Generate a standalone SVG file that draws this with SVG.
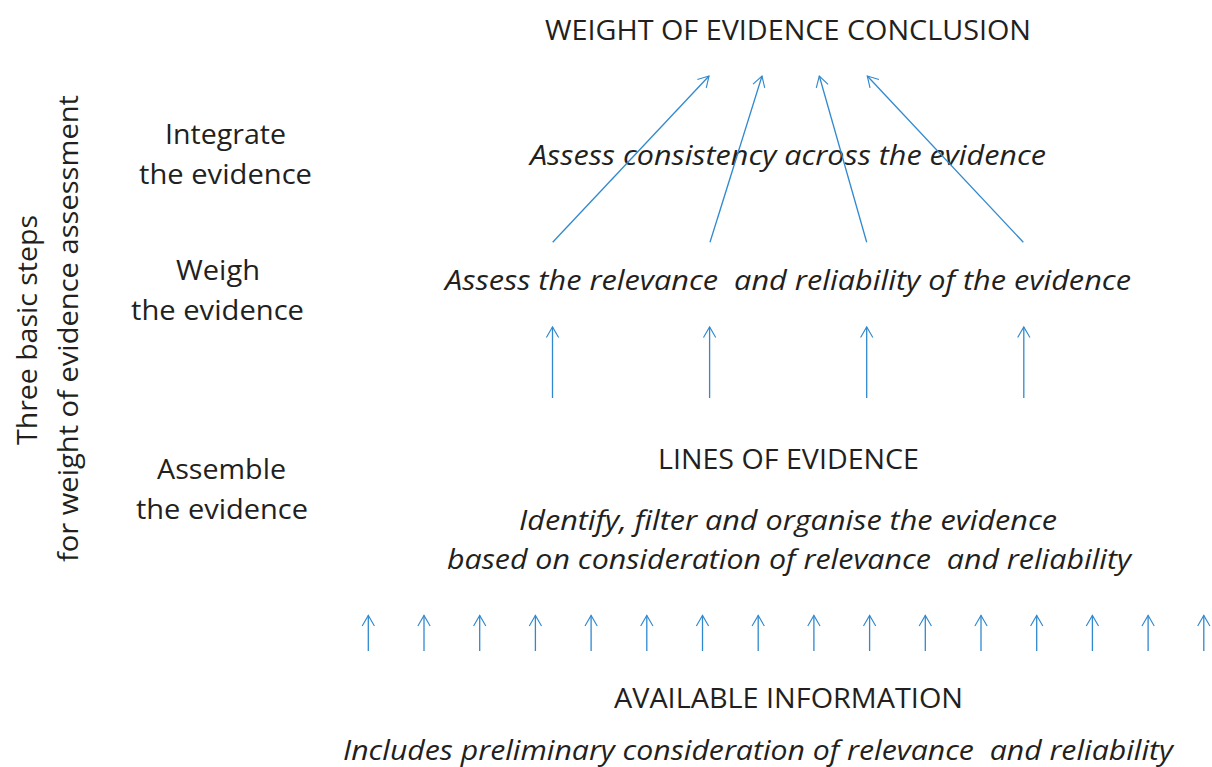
<svg xmlns="http://www.w3.org/2000/svg" width="1212" height="767" viewBox="0 0 1212 767">
<defs>
<style>
.t{font-family:"Open Sans","Noto Sans",sans-serif;fill:#231f20;font-size:27px}
.i{font-style:italic}
.c{text-anchor:middle}
.p{white-space:pre}
.a{stroke:#3089cf;stroke-width:1.3;fill:none;marker-end:url(#ah)}
</style>
<marker id="ah" markerUnits="userSpaceOnUse" markerWidth="14" markerHeight="14" viewBox="-13 -8 14 16" refX="0" refY="0" orient="auto" overflow="visible">
<path d="M-12,-7 L0,0 L-12,7" fill="none" stroke="#3089cf" stroke-width="1.3"/>
</marker>
</defs>
<rect width="1212" height="767" fill="#ffffff"/>
<g id="side-title">
<text class="t c" transform="translate(37,330) rotate(-90)" textLength="230" lengthAdjust="spacingAndGlyphs">Three basic steps</text>
<text class="t c" transform="translate(78,328.5) rotate(-90)" textLength="467" lengthAdjust="spacingAndGlyphs">for weight of evidence assessment</text>
</g>
<g id="step-integrate">
<text class="t c" x="225.5" y="144" textLength="121" lengthAdjust="spacingAndGlyphs">Integrate</text>
<text class="t c" x="225.5" y="184" textLength="173" lengthAdjust="spacingAndGlyphs">the evidence</text>
</g>
<g id="step-weigh">
<text class="t c" x="218" y="280" textLength="84" lengthAdjust="spacingAndGlyphs">Weigh</text>
<text class="t c" x="217.5" y="320" textLength="173" lengthAdjust="spacingAndGlyphs">the evidence</text>
</g>
<g id="step-assemble">
<text class="t c" x="221.5" y="479" textLength="129" lengthAdjust="spacingAndGlyphs">Assemble</text>
<text class="t c" x="222" y="519" textLength="172" lengthAdjust="spacingAndGlyphs">the evidence</text>
</g>
<g id="conclusion">
<text class="t c" x="788" y="40" textLength="486" lengthAdjust="spacingAndGlyphs">WEIGHT OF EVIDENCE CONCLUSION</text>
</g>
<g id="integrate-text">
<text class="t i c" x="788" y="165" textLength="516" lengthAdjust="spacingAndGlyphs">Assess consistency across the evidence</text>
</g>
<g id="weigh-text">
<text class="t i c p" xml:space="preserve" x="788" y="290" textLength="686" lengthAdjust="spacingAndGlyphs">Assess the relevance  and reliability of the evidence</text>
</g>
<g id="lines-of-evidence">
<text class="t c" x="788.5" y="469" textLength="261" lengthAdjust="spacingAndGlyphs">LINES OF EVIDENCE</text>
<text class="t i c" x="788" y="530" textLength="538" lengthAdjust="spacingAndGlyphs">Identify, filter and organise the evidence</text>
<text class="t i c p" xml:space="preserve" x="789" y="569" textLength="684" lengthAdjust="spacingAndGlyphs">based on consideration of relevance  and reliability</text>
</g>
<g id="available-information">
<text class="t c" x="788.5" y="708" textLength="349" lengthAdjust="spacingAndGlyphs">AVAILABLE INFORMATION</text>
<text class="t i c p" xml:space="preserve" x="758" y="760" textLength="830" lengthAdjust="spacingAndGlyphs">Includes preliminary consideration of relevance  and reliability</text>
</g>
<g id="connectors">
<line class="a" x1="552.7" y1="242.3" x2="709" y2="76"/>
<line class="a" x1="710" y1="242.3" x2="762" y2="76"/>
<line class="a" x1="866.7" y1="242.3" x2="819.3" y2="76"/>
<line class="a" x1="1023.3" y1="242.3" x2="867.3" y2="76"/>
<line class="a" x1="552.5" y1="398" x2="552.5" y2="327"/>
<line class="a" x1="709.6" y1="398" x2="709.6" y2="327"/>
<line class="a" x1="866.7" y1="398" x2="866.7" y2="327"/>
<line class="a" x1="1023.8" y1="398" x2="1023.8" y2="327"/>
<line class="a" x1="368.3" y1="651" x2="368.3" y2="615.5"/>
<line class="a" x1="424" y1="651" x2="424" y2="615.5"/>
<line class="a" x1="479.7" y1="651" x2="479.7" y2="615.5"/>
<line class="a" x1="535.4" y1="651" x2="535.4" y2="615.5"/>
<line class="a" x1="591.1" y1="651" x2="591.1" y2="615.5"/>
<line class="a" x1="646.8" y1="651" x2="646.8" y2="615.5"/>
<line class="a" x1="702.5" y1="651" x2="702.5" y2="615.5"/>
<line class="a" x1="758.2" y1="651" x2="758.2" y2="615.5"/>
<line class="a" x1="813.9" y1="651" x2="813.9" y2="615.5"/>
<line class="a" x1="869.6" y1="651" x2="869.6" y2="615.5"/>
<line class="a" x1="925.3" y1="651" x2="925.3" y2="615.5"/>
<line class="a" x1="981" y1="651" x2="981" y2="615.5"/>
<line class="a" x1="1036.7" y1="651" x2="1036.7" y2="615.5"/>
<line class="a" x1="1092.4" y1="651" x2="1092.4" y2="615.5"/>
<line class="a" x1="1148.1" y1="651" x2="1148.1" y2="615.5"/>
<line class="a" x1="1203.8" y1="651" x2="1203.8" y2="615.5"/>
</g>
</svg>
